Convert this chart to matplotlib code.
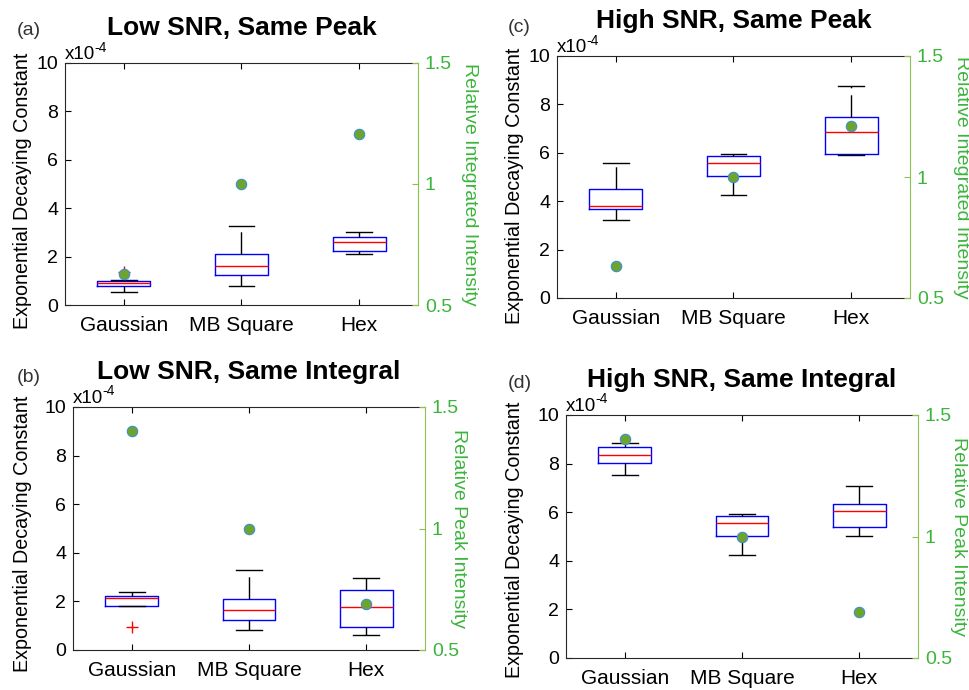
import matplotlib

matplotlib.use("Agg")
import matplotlib.pyplot as plt

plt.rcParams["font.family"] = ["Liberation Sans", "DejaVu Sans"]
plt.rcParams["lines.scale_dashes"] = False

CATEGORIES = ["Gaussian", "MB Square", "Hex"]

# box statistics per panel, units of 1e-4: (whislo, q1, med, q3, whishi)
A_LO = [0.53, 0.80, 0.89, 1.00, 1.02]
A_MB = [0.80, 1.23, 1.62, 2.09, 3.28]
A_HX = [2.09, 2.22, 2.60, 2.80, 3.03]
A_FLIERS = [[1.38], [], []]
A_DOTS = [0.629, 1.0, 1.207]

B_GA = [1.82, 1.82, 2.13, 2.22, 2.40]
B_MB = [0.81, 1.23, 1.63, 2.10, 3.28]
B_HX = [0.60, 0.93, 1.78, 2.46, 2.96]
B_FLIERS = [[0.96], [], []]
B_DOTS = [1.40, 1.0, 0.688]

C_GA = [3.21, 3.67, 3.81, 4.50, 5.56]
C_MB = [4.25, 5.05, 5.59, 5.85, 5.95]
C_HX = [5.90, 5.93, 6.87, 7.49, 8.75]
C_FLIERS = [[], [], []]
C_DOTS = [0.631, 1.0, 1.209]

D_GA = [7.52, 8.02, 8.35, 8.70, 8.83]
D_MB = [4.24, 5.03, 5.56, 5.83, 5.93]
D_HX = [5.02, 5.39, 6.04, 6.34, 7.09]
D_FLIERS = [[], [], []]
D_DOTS = [1.40, 1.0, 0.69]

BLUE = "#0000ff"
RED = "#ff0000"
DOT_FILL = "#6fa42c"
DOT_EDGE = "#3a8fd0"
GREEN_TXT = "#3cb43c"
GREEN_AX = "#8dc24a"
AX_INK = "#262626"

W, H = 970, 690
fig = plt.figure(figsize=(W / 100, H / 100), dpi=100)


def px_axes(left, top, right, bottom):
    return fig.add_axes([left / W, 1 - bottom / H, (right - left) / W, (bottom - top) / H])


# rect (px), tag, tag pos (px), title, boxes, fliers, dots, right label,
# left-label (x px offset, y frac), right-label x offset px
panels = [
    ((65, 63, 418, 305), "(a)", (17, 35), "Low SNR, Same Peak", [A_LO, A_MB, A_HX],
     A_FLIERS, A_DOTS, "Relative Integrated Intensity", (42, 0.471), 52),
    ((557, 56, 910, 298), "(c)", (508, 32), "High SNR, Same Peak", [C_GA, C_MB, C_HX],
     C_FLIERS, C_DOTS, "Relative Integrated Intensity", (42, 0.462), 52),
    ((73, 407, 425, 650), "(b)", (17, 382), "Low SNR, Same Integral", [B_GA, B_MB, B_HX],
     B_FLIERS, B_DOTS, "Relative Peak Intensity", (50, 0.477), 34),
    ((566, 415, 918, 658), "(d)", (508, 388), "High SNR, Same Integral", [D_GA, D_MB, D_HX],
     D_FLIERS, D_DOTS, "Relative Peak Intensity", (51, 0.486), 41),
]

for rect, tag, tagpos, title, boxes, fliers, dots, rlabel, lpos, roff in panels:
    ax = px_axes(*rect)
    aw = rect[2] - rect[0]
    stats = []
    for cat, b, fl in zip(CATEGORIES, boxes, fliers):
        stats.append(dict(label=cat, whislo=b[0], q1=b[1], med=b[2], q3=b[3],
                          whishi=b[4], fliers=fl))
    ax.bxp(
        stats, positions=[1, 2, 3], widths=0.45, capwidths=0.22,
        boxprops=dict(color=BLUE, linewidth=1.0),
        medianprops=dict(color=RED, linewidth=1.0),
        whiskerprops=dict(color="black", linewidth=1.0, linestyle=(0, (16, 5))),
        capprops=dict(color="black", linewidth=1.0),
        flierprops=dict(marker="+", markeredgecolor=RED, markersize=8, markeredgewidth=1.0),
    )
    ax.set_xlim(0.5, 3.5)
    ax.set_ylim(0, 10)
    ax.set_yticks([0, 2, 4, 6, 8, 10])
    ax.set_xticks([1, 2, 3], CATEGORIES)
    ax.tick_params(axis="both", direction="in", length=4, colors="black")
    ax.tick_params(axis="x", top=True, pad=8, labelsize=15)
    ax.tick_params(axis="y", right=False, labelsize=14, pad=5)
    for s in ("left", "bottom", "top"):
        ax.spines[s].set_color(AX_INK)
    ax.spines["right"].set_visible(False)
    ax.text(-lpos[0] / aw, lpos[1], "Exponential Decaying Constant",
            transform=ax.transAxes, fontsize=14.2, rotation=90,
            ha="center", va="center")
    # axis multiplier, MATLAB style: "x10" with a small raised "-4"
    ax.text(0, 1.0, "x10", transform=ax.transAxes, fontsize=13.5,
            ha="left", va="bottom")
    ax.text(29.5 / aw, 1.035, "-4", transform=ax.transAxes, fontsize=10,
            ha="left", va="bottom")
    ax.set_title(title, fontsize=19, fontweight="bold", pad=20)
    fig.text(tagpos[0] / W, 1 - tagpos[1] / H, tag, fontsize=14, color="#333333",
             ha="left", va="baseline")

    ax2 = ax.twinx()
    ax2.plot([1, 2, 3], dots, linestyle="none", marker="o", markersize=7.5,
             markerfacecolor=DOT_FILL, markeredgecolor=DOT_EDGE, markeredgewidth=0.8)
    ax2.set_ylim(0.5, 1.5)
    ax2.set_yticks([0.5, 1, 1.5], ["0.5", "1", "1.5"])
    ax2.tick_params(axis="y", direction="in", length=4, labelsize=14, pad=5,
                    colors=GREEN_AX, labelcolor=GREEN_TXT)
    for s in ("left", "bottom", "top"):
        ax2.spines[s].set_visible(False)
    ax2.spines["right"].set_color(GREEN_AX)
    ax2.text(1 + roff / aw, 0.5, rlabel, transform=ax2.transAxes, fontsize=14,
             color=GREEN_TXT, rotation=270, ha="center", va="center")

fig.savefig("out.png", dpi=100)
